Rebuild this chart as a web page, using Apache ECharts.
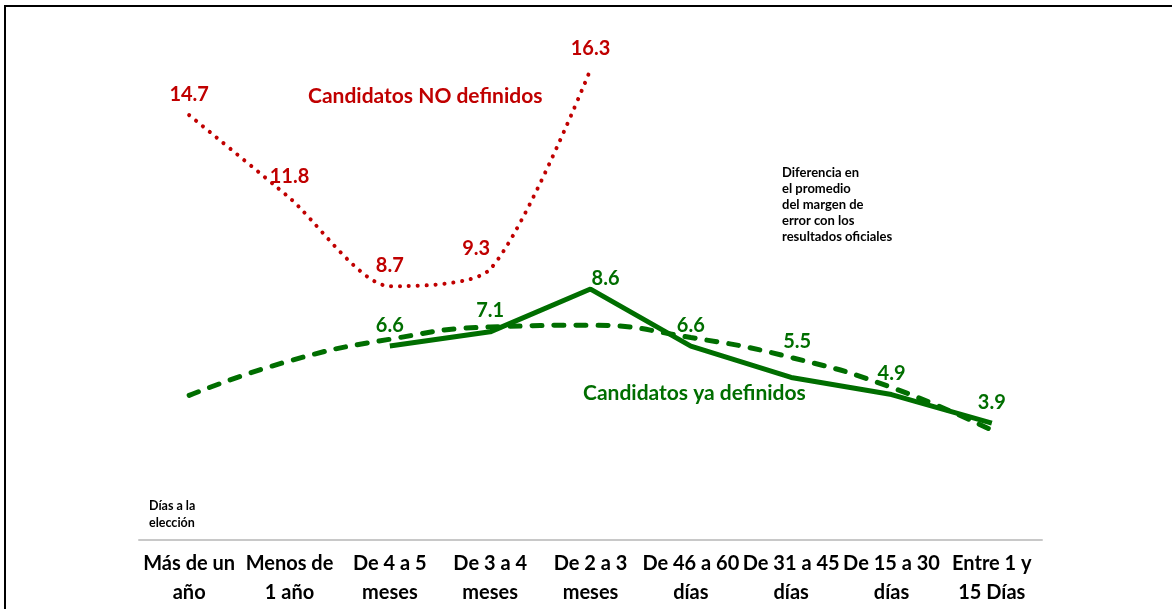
<!DOCTYPE html>
<html><head><meta charset="utf-8">
<script src="https://cdn.jsdelivr.net/npm/echarts@6/dist/echarts.min.js"></script>
<style>html,body{margin:0;padding:0;background:#fff}#c{width:1172px;height:609px}</style>
</head><body><div id="c"></div>
<script>
const categories = ['Más de un\naño','Menos de\n1 año','De 4 a 5\nmeses','De 3 a 4\nmeses','De 2 a 3\nmeses','De 46 a 60\ndías','De 31 a 45\ndías','De 15 a 30\ndías','Entre 1 y\n15 Días'];
const noDefinidos = [14.7, 11.8, 8.7, 9.3, 16.3, null, null, null, null];
const yaDefinidos = [null, null, 6.6, 7.1, 8.6, 6.6, 5.5, 4.9, 3.9];
const tendencia = [4.87, 6.08, 6.84, 7.27, 7.33, 6.9, 6.2, 5.15, 3.65];

const RED = '#c00000', GREEN = '#006e00';
const FONT = 'Lato, "Open Sans", sans-serif';

const redOffsets = {3: [-14, 0]};
const greenOffsets = {4: [15, 10], 6: [6, -15]};

function withLabels(arr, offs) {
  return arr.map((v, i) => {
    if (v == null) return null;
    if (offs[i]) return {value: v, label: {offset: offs[i]}};
    return v;
  });
}

const chart = echarts.init(document.getElementById('c'), null, {renderer: 'canvas'});
chart.setOption({
  animation: false,
  backgroundColor: '#fff',
  grid: {left: 139, right: 130, top: 21, bottom: 69, containLabel: false},
  xAxis: {
    type: 'category',
    data: categories,
    boundaryGap: true,
    axisLine: {onZero: false, lineStyle: {color: '#c8c8c8', width: 2}},
    axisTick: {show: false},
    axisLabel: {
      interval: 0, margin: 9, color: '#000', fontFamily: FONT, fontWeight: 'bold',
      fontSize: 20, lineHeight: 29
    },
    splitLine: {show: false}
  },
  yAxis: {
    type: 'value', min: -0.2, max: 18, show: false, splitLine: {show: false}
  },
  series: [
    {
      name: 'Candidatos NO definidos', type: 'line', data: withLabels(noDefinidos, redOffsets),
      smooth: 0.25, symbol: 'circle', symbolSize: 0, showSymbol: true, connectNulls: false,
      itemStyle: {color: RED},
      lineStyle: {color: RED, width: 4, type: [0.1, 8.8], cap: 'round'},
      label: {show: true, position: 'top', distance: 11, color: RED, fontFamily: FONT, fontWeight: 'bold', fontSize: 20},
      z: 3
    },
    {
      name: 'Candidatos ya definidos', type: 'line', data: withLabels(yaDefinidos, greenOffsets),
      smooth: false, symbol: 'circle', symbolSize: 0, showSymbol: true,
      itemStyle: {color: GREEN},
      lineStyle: {color: GREEN, width: 5},
      label: {show: true, position: 'top', distance: 11, color: GREEN, fontFamily: FONT, fontWeight: 'bold', fontSize: 20},
      z: 3
    },
    {
      name: 'Tendencia', type: 'line', data: tendencia,
      smooth: true, symbol: 'none',
      lineStyle: {color: GREEN, width: 5, type: [10, 12], cap: 'round'},
      label: {show: false}, z: 4
    }
  ],
  graphic: [
    {type: 'rect', silent: true, shape: {x: 5, y: 6, width: 1200, height: 700},
     style: {fill: 'none', stroke: '#000', lineWidth: 2}, z: 0},
    {type: 'text', left: 308, top: 86, style: {text: 'Candidatos NO definidos', fill: RED,
      font: 'bold 21px ' + FONT}},
    {type: 'text', left: 583, top: 383, style: {text: 'Candidatos ya definidos', fill: GREEN,
      font: 'bold 21px ' + FONT}},
    {type: 'text', left: 782, top: 165, style: {text: 'Diferencia en\nel promedio\ndel margen de\nerror con los\nresultados oficiales',
      fill: '#000', font: 'bold 13px ' + FONT, lineHeight: 16}},
    {type: 'text', left: 149, top: 497, style: {text: 'Días a la\nelección', fill: '#000',
      font: 'bold 12.5px ' + FONT, lineHeight: 17}}
  ]
});
</script>
</body></html>
